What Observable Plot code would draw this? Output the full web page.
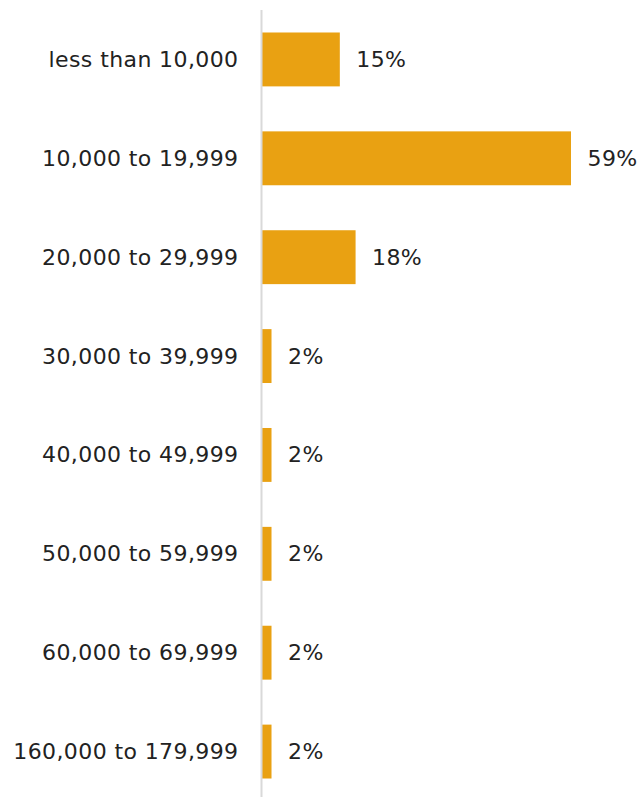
<!DOCTYPE html>
<html>
<head>
<meta charset="utf-8">
<script src="https://cdn.jsdelivr.net/npm/d3@7"></script>
<script src="https://cdn.jsdelivr.net/npm/@observablehq/plot@0.6"></script>
<style>
  html, body { margin: 0; padding: 0; background: #fff; overflow: hidden; }
  svg text { letter-spacing: 0.4px; }
</style>
</head>
<body>
<div id="chart"></div>
<script>
const categories = [
  "less than 10,000",
  "10,000 to 19,999",
  "20,000 to 29,999",
  "30,000 to 39,999",
  "40,000 to 49,999",
  "50,000 to 59,999",
  "60,000 to 69,999",
  "160,000 to 179,999"
];
const values = [15, 59, 18, 2, 2, 2, 2, 2];

const data = categories.map((c, i) => ({category: c, value: values[i]}));

const chart = Plot.plot({
  width: 641,
  height: 801,
  marginTop: 10,
  marginBottom: 0,
  marginLeft: 261,
  marginRight: 70,
  style: {fontFamily: "'DejaVu Sans', Verdana, sans-serif", fontSize: "22px", color: "#222", background: "#fff"},
  x: {domain: [0, 59], axis: null},
  y: {domain: categories, paddingInner: 0.455, paddingOuter: 0.2275, round: false, label: null, axis: null},
  marks: [
    Plot.barX(data, {y: "category", x: "value", fill: "#E9A112"}),
    Plot.ruleX([0], {stroke: "#d9d9d9", strokeWidth: 2}),
    Plot.text(data, {y: "category", x: "value", text: d => d.value + "%", textAnchor: "start", dx: 16, fill: "#222", fontSize: 22}),
    Plot.axisY({tickSize: 0, tickPadding: 23, fontSize: 22, label: null, fill: "#222"})
  ]
});
document.getElementById("chart").appendChild(chart);
</script>
</body>
</html>
